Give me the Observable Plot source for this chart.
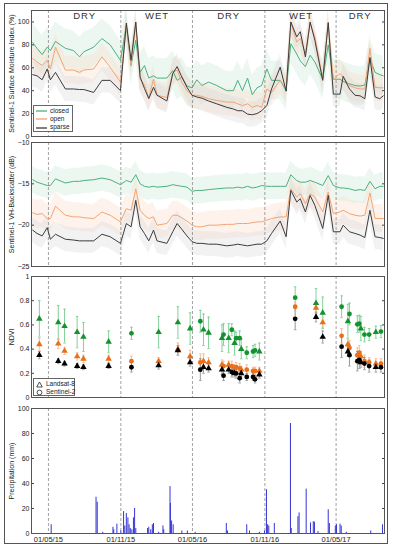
<!DOCTYPE html>
<html><head><meta charset="utf-8">
<script src="https://cdn.jsdelivr.net/npm/d3@7"></script>
<script src="https://cdn.jsdelivr.net/npm/@observablehq/plot@0.6"></script>
<style>
body{margin:0;background:#fff;font-family:"Liberation Sans",Arial,Helvetica,sans-serif;}
#wrap{position:relative;width:394px;height:550px;overflow:hidden;background:#fff;}
#border{position:absolute;left:4px;top:3px;width:384px;height:541px;border:1px solid #555;box-sizing:border-box;}
.panel{position:absolute;left:0;}
.panel svg{overflow:visible;}
.season text{letter-spacing:1px;}
.legend{position:absolute;background:#fff;border:1px solid #666;font-size:6.5px;color:#222;line-height:8.2px;padding:1px 2px;box-sizing:border-box;overflow:visible;}
.legend .row{display:flex;align-items:center;white-space:nowrap;}
.legend svg{margin-right:3px;flex-shrink:0;}
</style></head><body>
<div id="wrap"><div id="border"></div></div>
<script>
// ---------- DATA ----------
const classes = ["closed", "open", "sparse"];
const seasonBounds = ["2015-05-01", "2015-11-01", "2016-05-01", "2016-11-01", "2017-05-01"];
const seasonLabels = ["DRY", "WET", "DRY", "WET", "DRY"];
const seasonLabelDates = ["2015-08-01", "2016-02-01", "2016-08-01", "2017-02-01", "2017-07-01"];
const xTickDates = ["2015-05-01", "2015-11-01", "2016-05-01", "2016-11-01", "2017-05-01"];
const xTickLabels = ["01/05/15", "01/11/15", "01/05/16", "01/11/16", "01/05/17"];

// Sentinel-1 acquisitions
const s1Dates = ["2015-03-22","2015-04-02","2015-04-15","2015-04-28","2015-05-06","2015-05-19","2015-06-13","2015-07-04","2015-07-19","2015-07-30",
"2015-08-24","2015-09-14","2015-10-05","2015-10-31","2015-11-15","2015-11-27","2015-12-09","2015-12-20","2015-12-31","2016-01-11",
"2016-01-23","2016-02-01","2016-02-26","2016-03-12","2016-03-23","2016-04-04","2016-04-17","2016-04-30","2016-05-12","2016-05-25",
"2016-06-11","2016-07-02","2016-07-27","2016-08-13","2016-08-24","2016-09-05","2016-09-18","2016-09-30","2016-10-12","2016-10-24",
"2016-11-06","2016-11-18","2016-12-10","2016-12-25","2017-01-06","2017-01-21","2017-01-30","2017-02-12","2017-02-24","2017-03-08",
"2017-03-28","2017-04-11","2017-04-24","2017-05-11","2017-05-19","2017-06-04","2017-06-18","2017-07-01","2017-07-13","2017-07-26",
"2017-08-08","2017-08-20","2017-08-29"];
const smiClosed = [82,77,71.5,78,75,83,77,75,69.5,74, 78,85.5,80,66.5,97,62,84,56,62,51, 53,51,51,57.5,49,52,44,42.5,49.5,44.5,
47.5,44.5,40,40,49,40,51,36.5,42.5,44.5, 59,49,49,40,81,72,66,61,71,65, 50,80,50,50,48,46,44.5,44,45,68, 56,54,53];
const smiOpen = [68,65,62,66.5,59,78,58,58,56,58, 59,69.5,60.5,47.5,97,62,99,50,45,34, 50,36,34,56,58,47.5,40,36,36,35,
33,31.5,30,30,28.5,27,28.5,25.5,27,25.5, 41.5,38.5,49,41.5,99.5,82.5,85.5,72.5,99,87, 50,99,50,55,52,44.5,42.5,41.5,41.5,77, 43,42.5,42.5];
const smiSparse = [54,53,49.5,59,49.5,56,41.5,41.5,41,41, 38.5,49,49,40,99,66.5,100,52,42,33, 43,36,31,55,61,52,43,36,34.5,33.5,
31,28.5,25.5,24,22.5,22.5,19.5,19,20,22.5, 27,41.5,60.5,39.5,100,87,91.5,69.5,100,84, 49,99.5,37,37,52.5,41.5,36,35.5,33,69, 34.5,33,35.5];
const smiSpread = [17, 12, 11]; // closed, open, sparse (± band)

const vhClosed = [-14.5,-14.8,-15,-15.2,-15.2,-14.4,-14.9,-14.7,-14.7,-14.6, -14.5,-14.3,-14.5,-15.1,-14.6,-14.8,-13.9,-15,-15.3,-15.4,
-15.3,-15.4,-15.3,-15.1,-15.2,-15.3,-15.4,-15.9,-15.8,-15.8, -15.7,-15.6,-15.5,-15.5,-15.4,-15.5,-15.3,-15.5,-15.4,-15.2,
-15.3,-15.3,-15.3,-15.3,-13.9,-14.6,-14.8,-14.8,-14.6,-14.8, -15.2,-14,-15.2,-15.5,-15.5,-15.6,-15.8,-15.7,-15.8,-14.7, -15.6,-15.3,-15.3];
const vhOpen = [-18.5,-18.7,-18.6,-19.2,-19.2,-17.7,-18.8,-19,-19,-19.1, -19.2,-18.4,-18.8,-19.6,-18,-18.2,-15.6,-18.2,-18.8,-19.2,
-19,-20,-19.8,-18.8,-18.8,-19.1,-19.5,-20,-20.2,-20.2, -20,-20,-19.9,-19.9,-19.8,-19.8,-19.8,-19.7,-19.6,-19.6,
-19.4,-19.2,-19,-19,-15.6,-16.6,-16.2,-17.4,-16.2,-16.6, -18.4,-16,-18.6,-18.4,-18.2,-18.6,-18.8,-18.9,-18.8,-16.1, -19.2,-19.2,-19.2];
const vhSparse = [-20.6,-21,-21.3,-20.3,-21.7,-21.1,-21.7,-21.8,-21.9,-21.9, -21.9,-21.1,-21.4,-22.2,-19.8,-20.2,-17,-20.2,-21,-21.9,
-20.6,-21.9,-22.2,-20.8,-19.8,-20.5,-21.3,-22,-22.2,-22.2, -22.3,-22.3,-22.5,-22.4,-22.3,-22.4,-22.5,-22.4,-22.3,-22.3,
-21.9,-21,-19.5,-21.4,-15.8,-17.2,-16.8,-18.4,-16.4,-17.6, -20.4,-16.4,-20.8,-20.8,-20,-20.8,-21,-21.2,-21.5,-18.2, -21.4,-21.5,-21.6];
const vhSpread = [1.6, 1.7, 1.5];

// NDVI (Landsat-8 = L8, Sentinel-2 = S2)
const ndviDates = ["2015-04-08","2015-05-26","2015-06-11","2015-07-13","2015-07-29","2015-10-01","2015-11-28","2016-02-05","2016-03-25","2016-04-25",
"2016-05-21","2016-05-29","2016-06-11","2016-07-15","2016-07-19","2016-08-01","2016-08-09","2016-08-16","2016-08-20","2016-08-29",
"2016-09-02","2016-09-16","2016-10-02","2016-10-07","2016-10-18","2017-01-17","2017-03-11","2017-03-28","2017-05-15","2017-05-31",
"2017-06-04","2017-06-24","2017-06-29","2017-07-03","2017-07-12","2017-07-24","2017-08-10","2017-08-23"];
const ndviSensor = ["L8","L8","L8","L8","L8","L8","S2","L8","L8","L8", "S2","L8","L8","L8","S2","L8","S2","L8","S2","S2",
"L8","S2","S2","S2","L8","S2","L8","L8","S2","L8", "S2","S2","S2","L8","S2","S2","L8","S2"];
const ndviClosed = [.65,.62,.59,.54,.50,.46,.53,.54,.62,.57, .63,.56,.535,.49,.52,.49,.56,.45,.49,.49, .40,.37,.38,.39,.38,.825,.78,.70,.75,.63, .69,.605,.61,.57,.52,.52,.54,.545];
const ndviClosedErr = [.15,.14,.14,.13,.12,.09,.05,.13,.13,.13, .09,.13,.13,.11,.09,.12,.05,.10,.05,.06, .08,.05,.05,.05,.07,.09,.12,.13,.09,.14, .09,.07,.07,.10,.06,.05,.05,.05];
const ndviOpen = [.44,.445,.385,.34,.32,.32,.30,.30,.40,.34, .29,.30,.29,.27,.26,.27,.26,.24,.25,.24, .23,.23,.22,.22,.22,.75,.74,.62,.51,.44, .41,.35,.37,.34,.30,.29,.28,.28];
const ndviOpenErr = [.05,.04,.03,.03,.03,.03,.04,.03,.05,.05, .07,.06,.04,.04,.04,.03,.04,.03,.04,.04, .03,.04,.03,.03,.03,.04,.04,.04,.06,.04, .06,.06,.06,.04,.05,.04,.04,.04];
const ndviSparse = [.35,.30,.28,.26,.25,.26,.25,.265,.39,.29, .23,.25,.24,.23,.18,.23,.21,.20,.20,.16, .20,.17,.17,.15,.19,.65,.665,.50,.42,.38, .35,.30,.31,.29,.28,.26,.25,.25];
const ndviSparseErr = [.03,.02,.02,.02,.02,.02,.04,.03,.04,.03, .09,.05,.03,.04,.04,.03,.04,.03,.04,.04, .03,.03,.03,.03,.03,.09,.04,.05,.09,.04, .09,.08,.07,.04,.05,.05,.04,.04];

// Precipitation (mm)
const precipDates = ["2015-05-08","2015-08-30","2015-09-02","2015-09-16","2015-10-12","2015-10-14","2015-10-22","2015-11-01","2015-11-08","2015-11-11",
"2015-11-15","2015-11-19","2015-11-22","2015-11-25","2015-11-29","2015-12-03","2015-12-06","2015-12-09","2016-01-08","2016-01-11",
"2016-01-16","2016-01-20","2016-01-23","2016-02-05","2016-02-16","2016-02-18","2016-03-05","2016-03-06","2016-03-09","2016-03-13",
"2016-04-04","2016-04-18","2016-05-08","2016-07-26","2016-07-29","2016-09-16","2016-09-23","2016-10-18","2016-10-31","2016-11-05",
"2016-11-08","2016-11-11","2016-11-25","2017-01-05","2017-01-07","2017-01-24","2017-01-27","2017-02-14","2017-02-25","2017-03-04",
"2017-03-07","2017-03-16","2017-04-11","2017-04-14","2017-04-29","2017-05-02","2017-05-11","2017-05-14","2017-05-27","2017-07-28","2017-08-27"];
const precipMm = [7,29,25,1,5,3,7.5,2,17.5,6, 16,12.5,7,4,3,12.5,20,4,4,5, 3,7,8,1,6,3,37.5,24,10,7, 2,2,1,8,2,7,2,1,2,35,
7,6,8,88,4,13.5,16.5,35.5,8.5,9.5, 9,1.5,19,8,6,7,7.5,6,1,2,7];

// ---------- STYLE ----------
const lineColor = {closed: "#4db07e", open: "#f2a572", sparse: "#3c3c3c"};
const bandColor = {closed: "#bfe6d0", open: "#fbd6bf", sparse: "#d4d4d4"};
const dotColor = {closed: "#13922f", open: "#ea6f1a", sparse: "#000000"};
const errColor = {closed: "#74cc8c", open: "#f6b68c", sparse: "#8a8a8a"};
const fontFam = "'Liberation Sans', Arial, Helvetica, sans-serif";

// ---------- BUILD ----------
const parse = d3.utcParse("%Y-%m-%d");
const xDomain = [parse("2015-03-19"), parse("2017-09-01")];
const bounds = seasonBounds.map(d => ({date: parse(d)}));
const seasons = seasonLabels.map((l, i) => ({label: l, date: parse(seasonLabelDates[i])}));
const tickDates = xTickDates.map(parse);
const tickMap = new Map(tickDates.map((d, i) => [+d, xTickLabels[i]]));

function s1Rows(series, spread) {
  const rows = [];
  series.forEach((vals, k) => vals.forEach((v, i) => rows.push({
    cls: classes[k], date: parse(s1Dates[i]), v, lo: v - spread[k], hi: v + spread[k]
  })));
  return rows;
}
const smiRows = s1Rows([smiClosed, smiOpen, smiSparse], smiSpread);
const vhRows = s1Rows([vhClosed, vhOpen, vhSparse], vhSpread);
const ndviRows = [];
[[ndviClosed, ndviClosedErr], [ndviOpen, ndviOpenErr], [ndviSparse, ndviSparseErr]].forEach(([vals, errs], k) =>
  vals.forEach((v, i) => ndviRows.push({cls: classes[k], date: parse(ndviDates[i]), sensor: ndviSensor[i], v, e: errs[i]})));
const precip = precipMm.map((mm, i) => ({date: parse(precipDates[i]), mm}));

const capSymbol = {draw(ctx, size) { const r = Math.sqrt(size / Math.PI); ctx.moveTo(-r, 0); ctx.lineTo(r, 0); }};

function yAxes(ticks, label, fmt) {
  return [
    Plot.axisY({ticks, tickSize: 0, tickPadding: 2, tickFormat: fmt, label, labelAnchor: "center", labelOffset: 22, labelArrow: "none", fontSize: 7, fill: "#222"}),
    Plot.axisY({ticks, tickSize: 3, fill: "none", label: null, dx: 3, stroke: "#444"}),
    Plot.axisY({ticks, anchor: "right", tickSize: 3, fill: "none", label: null, dx: -3, stroke: "#444"})
  ];
}
const dashed = () => Plot.ruleX(bounds, {x: "date", stroke: "#8a8a8a", strokeWidth: 0.8, strokeDasharray: "3,2"});
const base = {width: 394, marginLeft: 31, marginRight: 10,
  style: {fontFamily: fontFam, fontSize: "7px", color: "#222", background: "transparent"},
  color: {type: "identity"}};

function place(svg, top) {
  const d = document.createElement("div");
  d.className = "panel"; d.style.top = top + "px";
  d.appendChild(svg); document.getElementById("wrap").appendChild(d);
}

// Panel 1: Surface Moisture Index
place(Plot.plot({...base, height: 140, marginTop: 10, marginBottom: 4,
  x: {type: "utc", domain: xDomain, axis: null},
  y: {domain: [0, 110]},
  marks: [
    Plot.areaY(smiRows, {x: "date", y1: "lo", y2: "hi", z: "cls", fill: d => bandColor[d.cls], fillOpacity: 0.3, clip: true}),
    dashed(),
    Plot.lineY(smiRows, {x: "date", y: "v", z: "cls", stroke: d => lineColor[d.cls], strokeWidth: 1, clip: true}),
    Plot.text(seasons, {x: "date", text: "label", frameAnchor: "top", lineAnchor: "middle", dy: 5.5, fontSize: 9.5, fill: "#333", className: "season"}),
    ...yAxes([0, 20, 40, 60, 80, 100], "Sentinel-1 Surface Moisture Index (%)"),
    Plot.frame({stroke: "#555"})
  ]}), 0);

// Panel 2: VH backscatter
place(Plot.plot({...base, height: 134, marginTop: 5, marginBottom: 5,
  x: {type: "utc", domain: xDomain, axis: null},
  y: {domain: [-25, -10]},
  marks: [
    Plot.areaY(vhRows, {x: "date", y1: "lo", y2: "hi", z: "cls", fill: d => bandColor[d.cls], fillOpacity: 0.3, clip: true}),
    dashed(),
    Plot.lineY(vhRows, {x: "date", y: "v", z: "cls", stroke: d => lineColor[d.cls], strokeWidth: 1}),
    ...yAxes([-25, -20, -15, -10], "Sentinel-1 VH-Backscatter (dB)"),
    Plot.frame({stroke: "#555"})
  ]}), 137);

// Panel 3: NDVI
place(Plot.plot({...base, height: 131, marginTop: 6, marginBottom: 4,
  x: {type: "utc", domain: xDomain, axis: null},
  y: {domain: [0, 1]},
  symbol: {domain: ["L8", "S2"], range: ["triangle", "circle"]},
  marks: [
    dashed(),
    Plot.ruleX(ndviRows, {x: "date", y1: d => d.v - d.e, y2: d => d.v + d.e, stroke: d => errColor[d.cls], strokeWidth: 0.9}),
    Plot.dot(ndviRows, {x: "date", y: d => d.v - d.e, symbol: () => capSymbol, r: 1.3, stroke: d => errColor[d.cls], strokeWidth: 0.8}),
    Plot.dot(ndviRows, {x: "date", y: d => d.v + d.e, symbol: () => capSymbol, r: 1.3, stroke: d => errColor[d.cls], strokeWidth: 0.8}),
    Plot.dot(ndviRows, {x: "date", y: "v", symbol: "sensor", r: 2.4, fill: d => dotColor[d.cls], stroke: "none"}),
    ...yAxes([0, 0.2, 0.4, 0.6, 0.8, 1], "NDVI", d => String(d)),
    Plot.frame({stroke: "#555"})
  ]}), 270);

// Panel 4: Precipitation
place(Plot.plot({...base, height: 148, marginTop: 6, marginBottom: 17,
  x: {type: "utc", domain: xDomain},
  y: {domain: [0, 100]},
  marks: [
    dashed(),
    Plot.ruleX(precip, {x: "date", y1: 0, y2: "mm", stroke: "#3434d6", strokeWidth: 1}),
    Plot.axisX({ticks: tickDates, tickSize: 0, tickPadding: 3, tickFormat: d => tickMap.get(+d), label: null, fontSize: 7.5, fill: "#222"}),
    ...yAxes([0, 20, 40, 60, 80, 100], "Precipitation (mm)"),
    Plot.frame({stroke: "#555"})
  ]}), 402);

// Legends
function legend(left, top, w, h, rows) {
  const d = document.createElement("div");
  d.className = "legend";
  Object.assign(d.style, {left: left + "px", top: top + "px", width: w + "px", height: h + "px"});
  d.innerHTML = rows.join("");
  document.getElementById("wrap").appendChild(d);
}
legend(33, 105, 40, 27, classes.map(c =>
  `<div class="row"><svg width="11" height="6"><line x1="0" y1="3" x2="11" y2="3" stroke="${lineColor[c]}" stroke-width="1.3"/></svg>${c}</div>`));
legend(33, 378, 42, 18, [
  `<div class="row"><svg width="7" height="7"><path d="M3.5,1 L6.3,6 L0.7,6 Z" fill="none" stroke="#222" stroke-width="0.8"/></svg>Landsat-8</div>`,
  `<div class="row"><svg width="7" height="7"><circle cx="3.5" cy="3.5" r="2.4" fill="none" stroke="#222" stroke-width="0.8"/></svg>Sentinel-2</div>`]);
</script>
</body></html>
